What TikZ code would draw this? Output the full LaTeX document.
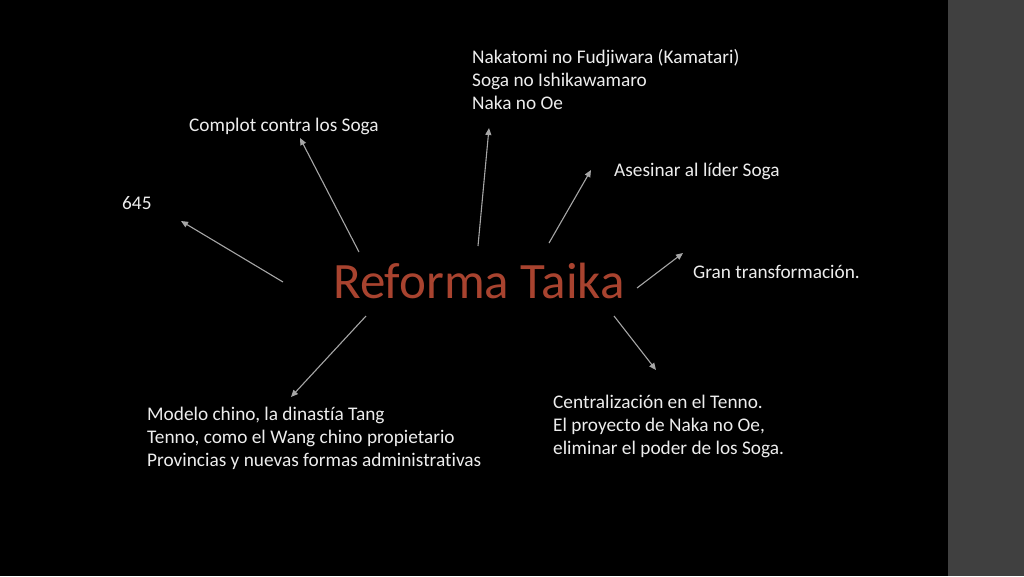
\documentclass[tikz,border=0pt]{standalone}
\usepackage{fontspec}
\setmainfont{Carlito}[Ligatures={NoCommon}]
\usetikzlibrary{arrows.meta}
\definecolor{bg}{HTML}{000000}
\definecolor{strip}{HTML}{404040}
\definecolor{titlecol}{HTML}{A8432F}
\definecolor{txt}{HTML}{EDEDED}
\definecolor{arr}{HTML}{A6A6A6}
\tikzset{
  lbl/.style={anchor=base west, inner sep=0pt, text=txt, align=left,
    font=\fontsize{19.3pt}{23pt}\selectfont},
  ttl/.style={anchor=base west, inner sep=0pt, text=titlecol,
    font=\fontsize{51pt}{60pt}\selectfont},
  conn/.style={draw=arr, line width=1.1pt, -{Triangle[length=7pt,width=6pt]}}
}
\begin{document}
\begin{tikzpicture}[x=1pt,y=-1pt]
\fill[bg] (0,0) rectangle (1024,576);
\fill[strip] (948,0) rectangle (1024,576);
\useasboundingbox (0,0) rectangle (1024,576);

\node[ttl] (title) at (333,298) {Reforma Taika};

\node[lbl] (n645) at (122,209) {645};
\node[lbl] (complot) at (189,131) {Complot contra los Soga};
\node[lbl] (nakatomi) at (472,109) {Nakatomi no Fudjiwara (Kamatari)\\Soga no Ishikawamaro\\Naka no Oe};
\node[lbl] (asesinar) at (614,176) {Asesinar al líder Soga};
\node[lbl] (gran) at (693,278) {Gran transformación.};
\node[lbl] (central) at (553,454) {Centralización en el Tenno.\\El proyecto de Naka no Oe,\\eliminar el poder de los Soga.};
\node[lbl] (modelo) at (147,466) {Modelo chino, la dinastía Tang\\Tenno, como el Wang chino propietario\\Provincias y nuevas formas administrativas};

\coordinate (s1) at (283,282); \coordinate (e1) at (181,221);
\coordinate (s2) at (359,252); \coordinate (e2) at (300,138);
\coordinate (s3) at (478,246); \coordinate (e3) at (489,128);
\coordinate (s4) at (549,243); \coordinate (e4) at (591,170);
\coordinate (s5) at (637,288); \coordinate (e5) at (683,253);
\coordinate (s6) at (614,316); \coordinate (e6) at (656,370);
\coordinate (s7) at (366,316); \coordinate (e7) at (291,397);

\draw[conn] (s1) -- (e1);
\draw[conn] (s2) -- (e2);
\draw[conn] (s3) -- (e3);
\draw[conn] (s4) -- (e4);
\draw[conn] (s5) -- (e5);
\draw[conn] (s6) -- (e6);
\draw[conn] (s7) -- (e7);
\end{tikzpicture}
\end{document}
